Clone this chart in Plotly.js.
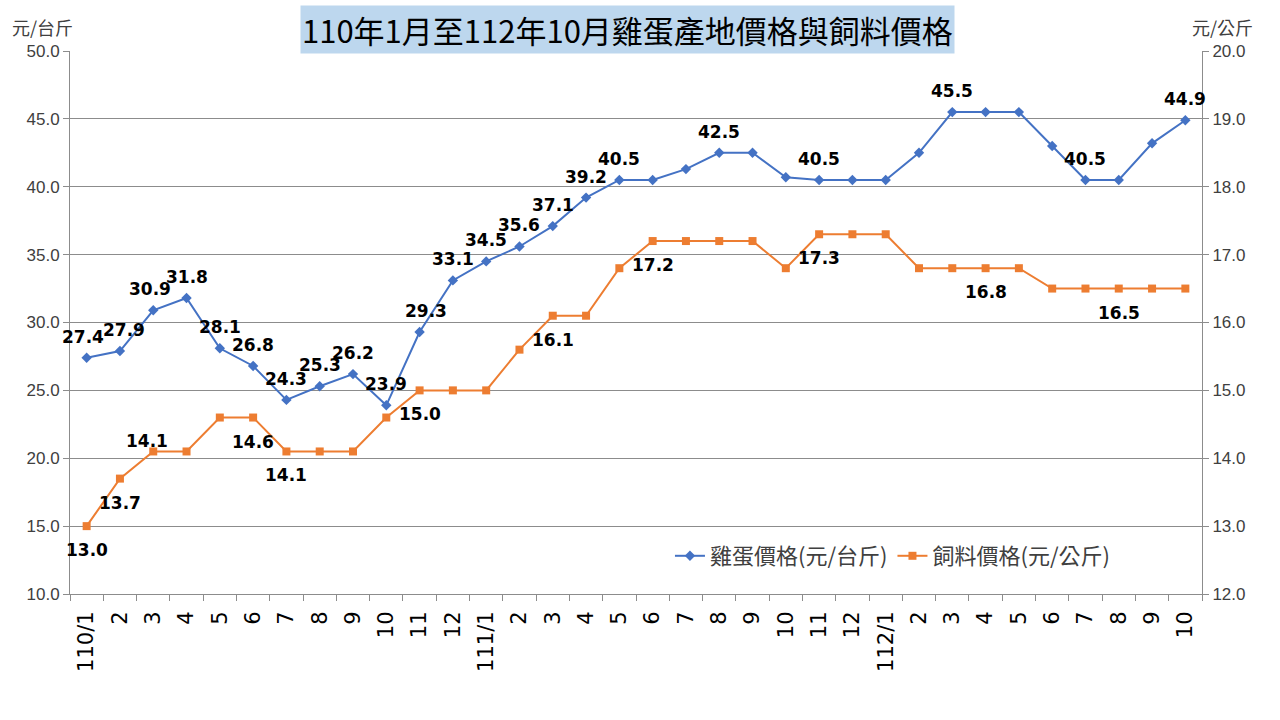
<!DOCTYPE html>
<html>
<head>
<meta charset="utf-8">
<script src="https://cdn.plot.ly/plotly-3.0.1.min.js"></script>
<style>html,body{margin:0;padding:0;background:#fff;}#chart{width:1280px;height:720px;}</style>
</head>
<body>
<div id="chart"></div>
<script>
// ---- data ----
const monthLabels = ["110/1","2","3","4","5","6","7","8","9","10","11","12",
  "111/1","2","3","4","5","6","7","8","9","10","11","12",
  "112/1","2","3","4","5","6","7","8","9","10"];
const eggPrice = [27.4,27.9,30.9,31.8,28.1,26.8,24.3,25.3,26.2,23.9,29.3,33.1,
  34.5,35.6,37.1,39.2,40.5,40.5,41.3,42.5,42.5,40.7,40.5,40.5,
  40.5,42.5,45.5,45.5,45.5,43.0,40.5,40.5,43.2,44.9];
const feedPrice = [13.0,13.7,14.1,14.1,14.6,14.6,14.1,14.1,14.1,14.6,15.0,15.0,
  15.0,15.6,16.1,16.1,16.8,17.2,17.2,17.2,17.2,16.8,17.3,17.3,
  17.3,16.8,16.8,16.8,16.8,16.5,16.5,16.5,16.5,16.5];
const eggName = "雞蛋價格(元/台斤)";
const feedName = "飼料價格(元/公斤)";
const titleText = "110年1月至112年10月雞蛋產地價格與飼料價格";
const eggLabelIdx = [0,1,2,3,4,5,6,7,8,9,10,11,12,13,14,15,16,19,22,26,30,33];
const feedLabelIdx = [0,1,2,5,6,10,14,17,22,27,31];

// ---- label offsets (styling) ----
const eggShift = {0:[-4,0],1:[4,0],2:[-3,0],10:[6,0]};
const feedShift = {2:[-6,34]};

const idx = monthLabels.map((_, i) => i);
const labelFont = {family: "DejaVu Sans", size: 17, color: "#000"};
const annotations = [];
eggLabelIdx.forEach(i => {
  const s = eggShift[i] || [0,0];
  annotations.push({x: i, y: eggPrice[i], xref: "x", yref: "y", text: "<b>" + eggPrice[i].toFixed(1) + "</b>",
    showarrow: false, yshift: 21 + s[1], xshift: s[0], font: labelFont});
});
feedLabelIdx.forEach(i => {
  const s = feedShift[i] || [0,0];
  annotations.push({x: i, y: feedPrice[i], xref: "x", yref: "y2", text: "<b>" + feedPrice[i].toFixed(1) + "</b>",
    showarrow: false, yshift: -24 + s[1], xshift: s[0], font: labelFont});
});
annotations.push({xref: "paper", yref: "paper", x: 0.4925, y: 1.0387, xanchor: "center", yanchor: "middle",
  text: titleText, showarrow: false, bgcolor: "#BDD7EE", borderpad: 1,
  font: {family: "Noto Sans CJK TC", size: 31, color: "#000"}});
annotations.push({xref: "paper", yref: "paper", x: -0.053, y: 1.017, xanchor: "left", yanchor: "bottom",
  text: "元/台斤", showarrow: false, font: {family: "Noto Sans CJK TC", size: 18, color: "#404040"}});
annotations.push({xref: "paper", yref: "paper", x: 1.047, y: 1.017, xanchor: "right", yanchor: "bottom",
  text: "元/公斤", showarrow: false, font: {family: "Noto Sans CJK TC", size: 18, color: "#404040"}});

const traces = [
  {x: idx, y: eggPrice, name: eggName, type: "scatter", mode: "lines+markers", yaxis: "y",
   line: {color: "#4472C4", width: 2}, marker: {symbol: "diamond", size: 8, color: "#4472C4"}},
  {x: idx, y: feedPrice, name: feedName, type: "scatter", mode: "lines+markers", yaxis: "y2",
   line: {color: "#ED7D31", width: 2}, marker: {symbol: "square", size: 8, color: "#ED7D31"}}
];

const layout = {
  width: 1280, height: 720,
  margin: {l: 70, r: 78, t: 51, b: 126},
  paper_bgcolor: "#fff", plot_bgcolor: "#fff",
  showlegend: true,
  legend: {orientation: "h", x: 0.53, y: 0.07, xanchor: "left", yanchor: "middle",
    font: {family: "Noto Sans CJK TC", size: 22, color: "#404040"}, bgcolor: "rgba(0,0,0,0)", itemwidth: 30},
  xaxis: {type: "linear", range: [-0.5, 33.5], tickmode: "array", tickvals: idx, ticktext: monthLabels,
    tickangle: -90, ticks: "", showgrid: false, zeroline: false, showline: true, linecolor: "#8c8c8c", linewidth: 1,
    ticklabelstandoff: 8,
    tickfont: {family: "DejaVu Sans", size: 21, color: "#000"},
    minor: {tick0: -0.5, dtick: 1, ticks: "outside", ticklen: 6, tickcolor: "#8c8c8c", showgrid: false}},
  yaxis: {range: [10, 50], dtick: 5, tickformat: ".1f", showgrid: true, gridcolor: "#8c8c8c", gridwidth: 1,
    zeroline: false, showline: true, linecolor: "#8c8c8c", ticks: "outside", ticklen: 6, tickcolor: "#8c8c8c",
    tickfont: {family: "Liberation Sans", size: 17, color: "#404040"}},
  yaxis2: {range: [12, 20], dtick: 1, tickformat: ".1f", overlaying: "y", side: "right", showgrid: false,
    zeroline: false, showline: true, linecolor: "#8c8c8c", ticks: "outside", ticklen: 6, tickcolor: "#8c8c8c",
    tickfont: {family: "Liberation Sans", size: 17, color: "#404040"}},
  annotations: annotations
};

Plotly.newPlot("chart", traces, layout, {displayModeBar: false, staticPlot: true});
</script>
</body>
</html>
